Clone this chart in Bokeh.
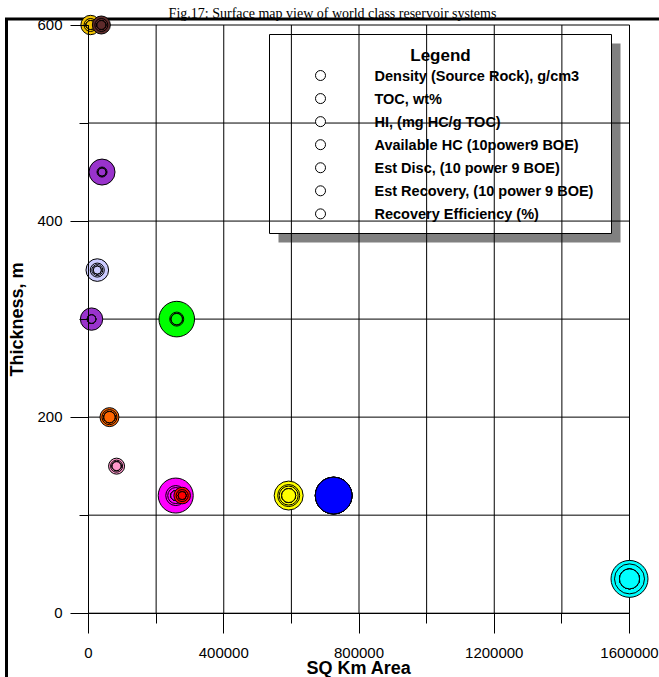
import math
from bokeh.plotting import figure
from bokeh.models import Range1d, LinearAxis, FixedTicker, ColumnDataSource, BasicTickFormatter
from bokeh.core.properties import value
from bokeh.embed import file_html
from bokeh.resources import INLINE

# ---------------- data ----------------
title_text = "Fig.17: Surface map view of world class reservoir systems"
x_label = "SQ Km Area"
y_label = "Thickness, m"
legend_title = "Legend"

x_ticks = [0, 400000, 800000, 1200000, 1600000]
x_minor = [0, 200000, 400000, 600000, 800000, 1000000, 1200000, 1400000, 1600000]
y_ticks = [0, 200, 400, 600]
y_minor = [0, 100, 200, 300, 400, 500, 600]

area = [6000, 38000, 40000, 26000, 9000, 261000, 62000, 83000, 258000, 277000, 592000, 725000, 1600000]
thickness = [600, 600, 450, 350, 300, 300, 200, 150, 120, 120, 120, 120, 35]
colors = ["#F2C200", "#5E2B2B", "#9933CC", "#CCCCFF", "#9933CC", "#00FF00", "#FF6600",
          "#FF99CC", "#FF00FF", "#FF0000", "#FFFF00", "#0000FF", "#00FFFF"]

series_names = ["Density (Source Rock), g/cm3", "TOC, wt%", "HI, (mg HC/g TOC)",
                "Available HC (10power9 BOE)", "Est Disc, (10 power 9 BOE)",
                "Est Recovery, (10 power 9 BOE)", "Recovery Efficiency (%)"]
density      = [20, 20, 16, 16, 18, 32, 32, 20, 25, 16, 49, 335, 100]
toc          = [20, 20, 16, 16, 18, 32, 32, 20, 25, 16, 49, 335, 100]
hi           = [94, 81, 169, 128, 125, 317, 90, 64, 306, 69, 210, 335, 342]
available_hc = [42, 42, 25, 49, 18, 49, 56, 36, 100, 36, 121, 335, 225]
est_disc     = [20, 20, 16, 30, 18, 32, 32, 20, 64, 16, 90, 335, 100]
est_recovery = [20, 20, 16, 16, 18, 32, 32, 20, 25, 16, 49, 335, 100]
recovery_eff = [20, 20, 16, 16, 18, 32, 32, 20, 25, 16, 49, 335, 100]

# ---------------- layout (page pixels) ----------------
OFF = 0                       # picture position of the canvas' top-left corner
W, H = 659, 677               # canvas size
PX_X0, PX_X1 = 88.0, 629.0    # px of x=0 and x=1.6e6
PX_Y0, PX_Y1 = 612.7, 24.5    # px of y=0 and y=600
BUBBLE_SCALE = 2.0

sx = (x_ticks[-1] - x_ticks[0]) / (PX_X1 - PX_X0)
sy = (y_ticks[-1] - y_ticks[0]) / (PX_Y0 - PX_Y1)


def xd(px):
    return x_ticks[0] + (px - PX_X0) * sx


def yd(py):
    return y_ticks[0] + (PX_Y0 - py) * sy


SANS = "Liberation Sans"
SERIF = "Liberation Serif"

p = figure(width=W, height=H, output_backend="svg", toolbar_location=None,
           x_range=Range1d(xd(OFF), xd(OFF + W)), y_range=Range1d(yd(OFF + H), yd(OFF)),
           x_axis_type=None, y_axis_type=None,
           min_border=0, min_border_left=0, min_border_right=0,
           min_border_top=0, min_border_bottom=0)
p.outline_line_color = None
p.background_fill_color = "white"
p.border_fill_color = "white"

# title
p.text(x=[xd(332)], y=[yd(13)], text=[title_text], text_font=value(SERIF),
       text_font_size=value("14px"), text_align="center", text_baseline="alphabetic",
       text_color="black")

# outer thick frame
p.line(x=[xd(6), xd(6), xd(700)], y=[yd(700), yd(18.5), yd(18.5)],
       line_width=3, line_color="black", line_join="miter")

# legend shadow and box
LG_L, LG_R, LG_T, LG_B = 269, 611, 34, 233
SH = 9
p.quad(left=[xd(LG_L + SH)], right=[xd(LG_R + SH)], top=[yd(LG_T + SH)], bottom=[yd(LG_B + SH)],
       fill_color="#808080", line_color=None)
p.quad(left=[xd(LG_L)], right=[xd(LG_R)], top=[yd(LG_T)], bottom=[yd(LG_B)],
       fill_color="white", line_color="black", line_width=1)

# gridlines (bounded to data area)
p.segment(x0=x_minor, x1=x_minor, y0=[y_ticks[0]] * len(x_minor), y1=[y_ticks[-1]] * len(x_minor),
          line_color="black", line_width=1)
p.segment(x0=[x_ticks[0]] * len(y_minor), x1=[x_ticks[-1]] * len(y_minor), y0=y_minor, y1=y_minor,
          line_color="black", line_width=1)

# legend contents
row0, row_step = 75.0, 23.06
p.text(x=[xd(440)], y=[yd(55)], text=[legend_title], text_font=value(SANS),
       text_font_size=value("17px"), text_font_style="bold", text_align="center",
       text_baseline="middle", text_color="black")
rows_y = [yd(row0 + i * row_step) for i in range(len(series_names))]
p.scatter(x=[xd(320)] * len(series_names), y=rows_y, size=10, marker="circle",
          fill_color="white", line_color="black", line_width=1)
p.text(x=[xd(374)] * len(series_names), y=rows_y, text=series_names, text_font=value(SANS),
       text_font_size=value("14.5px"), text_font_style="bold", text_align="left",
       text_baseline="middle", text_color="black")

# bubbles: each reservoir drawn as concentric circles, largest first
series_vals = [density, toc, hi, available_hc, est_disc, est_recovery, recovery_eff]
bx, by, bs, bc = [], [], [], []
for i in range(len(area)):
    vals = sorted([s[i] for s in series_vals], reverse=True)
    for v in vals:
        bx.append(area[i])
        by.append(thickness[i])
        bs.append(BUBBLE_SCALE * math.sqrt(v))
        bc.append(colors[i])
src = ColumnDataSource(dict(x=bx, y=by, size=bs, color=bc))
p.scatter(x="x", y="y", size="size", marker="circle", fill_color="color",
          line_color="black", line_width=1, source=src)

# axes
yaxis = LinearAxis(fixed_location=0, bounds=(y_ticks[0], y_ticks[-1]),
                   ticker=FixedTicker(ticks=y_ticks, minor_ticks=y_minor),
                   axis_label=y_label)
xaxis = LinearAxis(fixed_location=0, bounds=(x_ticks[0], x_ticks[-1]),
                   ticker=FixedTicker(ticks=x_ticks, minor_ticks=x_minor),
                   formatter=BasicTickFormatter(use_scientific=False),
                   axis_label=x_label)
for ax, maj, mnr, stand, lstand in ((yaxis, 18, 9, 8, 7), (xaxis, 20, 10, 15, -4)):
    ax.axis_line_color = "black"
    ax.major_tick_line_color = "black"
    ax.minor_tick_line_color = "black"
    ax.major_tick_out = maj
    ax.major_tick_in = 0
    ax.minor_tick_out = mnr
    ax.minor_tick_in = 0
    ax.major_label_standoff = stand
    ax.major_label_text_font = SANS
    ax.major_label_text_font_size = "15px"
    ax.major_label_text_color = "black"
    ax.axis_label_text_font = SANS
    ax.axis_label_text_font_size = "18px"
    ax.axis_label_text_font_style = "bold"
    ax.axis_label_text_color = "black"
    ax.axis_label_standoff = lstand
p.add_layout(yaxis, "left")
p.add_layout(xaxis, "below")

open("out.html", "w").write(file_html(p, INLINE))
